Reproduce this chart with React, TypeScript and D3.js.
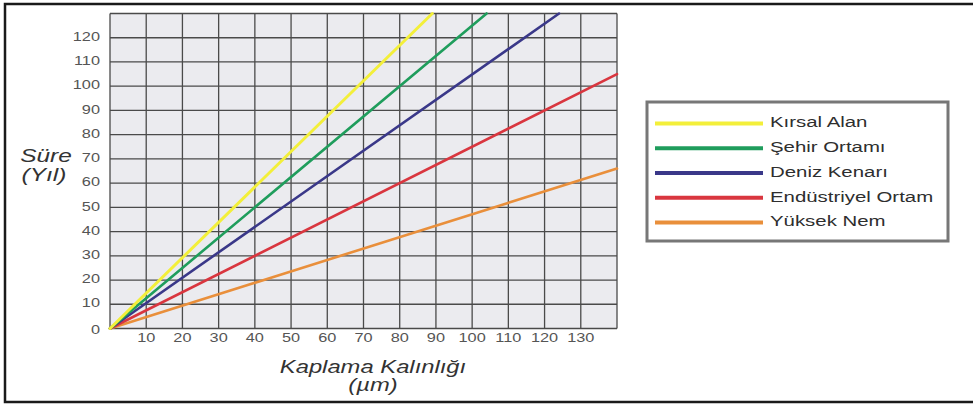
import { useEffect, useRef } from 'react'
import * as d3 from 'd3'

const seriesNames = ['Kırsal Alan', 'Şehir Ortamı', 'Deniz Kenarı', 'Endüstriyel Ortam', 'Yüksek Nem']
const seriesColors = ['#f3ef3a', '#1f9d5c', '#3a3889', '#d9363f', '#e98f3b']
// each line runs from the origin to where it leaves the grid
const endThickness = [89, 104, 124, 140, 140]
const endYears = [130, 130, 130, 105, 66]

const xTicks = [10, 20, 30, 40, 50, 60, 70, 80, 90, 100, 110, 120, 130]
const yTicks = [0, 10, 20, 30, 40, 50, 60, 70, 80, 90, 100, 110, 120]
const xGrid = d3.range(0, 150, 10)
const yGrid = d3.range(0, 140, 10)

const FONT = '"Liberation Sans", Arial, sans-serif'
// the source picture is stretched sideways, so the lettering is too
const STRETCH = 1.36

type G = d3.Selection<SVGGElement, unknown, null, undefined>

function wideText(parent: G | d3.Selection<SVGSVGElement, unknown, null, undefined>, x: number, y: number, label: string, opts: { size: number; anchor?: string; italic?: boolean; fill?: string }) {
  const g = parent.append('g').attr('transform', `translate(${x},${y}) scale(${STRETCH},1)`)
  return g.append('text')
    .attr('x', 0)
    .attr('y', 0)
    .attr('text-anchor', opts.anchor || 'start')
    .attr('dominant-baseline', 'middle')
    .attr('font-family', FONT)
    .attr('font-size', `${opts.size}px`)
    .attr('font-style', opts.italic ? 'italic' : 'normal')
    .attr('fill', opts.fill || '#333')
    .text(label)
}

export default function App() {
  const svgRef = useRef<SVGSVGElement>(null)

  useEffect(() => {
    if (!svgRef.current) return
    const svg = d3.select(svgRef.current)
    svg.selectAll('*').remove()

    const width = 973
    const height = 405
    const plot = { left: 110, top: 13.5, right: 617, bottom: 328.5 }

    svg.append('rect').attr('width', width).attr('height', height).attr('fill', '#fff')

    // outer frame (no right edge visible)
    svg.append('rect')
      .attr('x', 5)
      .attr('y', 4)
      .attr('width', 990)
      .attr('height', 398)
      .attr('fill', 'none')
      .attr('stroke', '#1a1a1a')
      .attr('stroke-width', 2.5)

    const x = d3.scaleLinear().domain([0, 140]).range([plot.left, plot.right])
    const y = d3.scaleLinear().domain([0, 130]).range([plot.bottom, plot.top])

    svg.append('rect')
      .attr('x', x(0))
      .attr('y', y(130))
      .attr('width', x(140) - x(0))
      .attr('height', y(0) - y(130))
      .attr('fill', '#ebebef')

    const grid = svg.append('g').attr('stroke', '#4a4a4a').attr('stroke-width', 1.3)
    grid.selectAll('line.v')
      .data(xGrid)
      .join('line')
      .attr('class', 'v')
      .attr('x1', d => x(d))
      .attr('x2', d => x(d))
      .attr('y1', y(0))
      .attr('y2', y(130))
    grid.selectAll('line.h')
      .data(yGrid)
      .join('line')
      .attr('class', 'h')
      .attr('x1', x(0))
      .attr('x2', x(140))
      .attr('y1', d => y(d))
      .attr('y2', d => y(d))

    const line = d3.line<[number, number]>()
      .x(d => x(d[0]))
      .y(d => y(d[1]))

    const order = [4, 3, 2, 1, 0]
    order.forEach(i => {
      svg.append('path')
        .attr('d', line([[0, 0], [endThickness[i], endYears[i]]]))
        .attr('fill', 'none')
        .attr('stroke', seriesColors[i])
        .attr('stroke-width', i === 0 ? 3 : 2.6)
        .attr('stroke-linecap', 'round')
    })

    const yLabels = svg.append('g')
    yTicks.forEach(d => {
      wideText(yLabels, 100, y(d) + (d === 0 ? 2 : 0), String(d), { size: 12, anchor: 'end', fill: '#555' })
    })

    const xLabels = svg.append('g')
    xTicks.forEach(d => {
      wideText(xLabels, x(d), 339, String(d), { size: 12, anchor: 'middle', fill: '#555' })
    })

    wideText(svg, 46, 157, 'Süre', { size: 18, anchor: 'middle', italic: true })
    wideText(svg, 44, 176, '(Yıl)', { size: 18, anchor: 'middle', italic: true })
    wideText(svg, 373, 368, 'Kaplama Kalınlığı', { size: 17.5, anchor: 'middle', italic: true })
    wideText(svg, 373, 386, '(µm)', { size: 17.5, anchor: 'middle', italic: true })

    // legend
    const legend = svg.append('g')
    legend.append('rect')
      .attr('x', 647)
      .attr('y', 102)
      .attr('width', 301)
      .attr('height', 139)
      .attr('fill', '#fff')
      .attr('stroke', '#777')
      .attr('stroke-width', 3)

    const rowY = d3.scalePoint<string>().domain(seriesNames).range([123.5, 222.5])
    seriesNames.forEach((name, i) => {
      const ry = rowY(name)!
      legend.append('line')
        .attr('x1', 655)
        .attr('x2', 763)
        .attr('y1', ry)
        .attr('y2', ry)
        .attr('stroke', seriesColors[i])
        .attr('stroke-width', 4)
      wideText(legend, 770, ry, name, { size: 15, fill: '#2e2e2e' })
    })
  }, [])

  return (
    <div style={{ position: 'absolute', left: 0, top: 0 }}>
      <svg ref={svgRef} width={973} height={405} style={{ display: 'block' }} />
    </div>
  )
}
